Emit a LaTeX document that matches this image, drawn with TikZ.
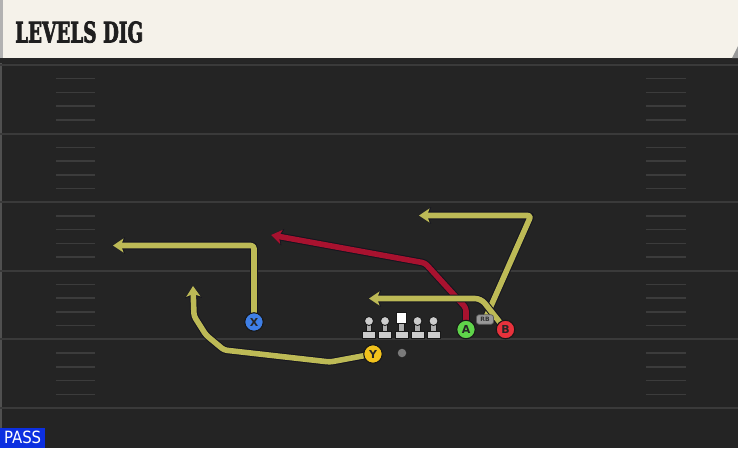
\documentclass[tikz,border=0pt]{standalone}
\usepackage{fontspec}
\setmainfont{DejaVu Sans}
\newfontfamily\titlefont{DejaVu Serif}[BoldFeatures={FakeBold=3}]
\newfontfamily\passfont{DejaVu Sans Condensed}
\usetikzlibrary{arrows.meta}
\pgfdeclarelayer{field}
\pgfdeclarelayer{routes}
\pgfsetlayers{field,routes,main}
\definecolor{fieldbg}{HTML}{242424}
\definecolor{yardline}{HTML}{3A3A3A}
\definecolor{hashcol}{HTML}{3C3C3C}
\definecolor{cream}{HTML}{F5F2EA}
\definecolor{routeyellow}{HTML}{BDBA56}
\definecolor{routered}{HTML}{A8122F}
\definecolor{routeedge}{HTML}{15151F}
\definecolor{pblue}{HTML}{3F7FE6}
\definecolor{pyellow}{HTML}{F2C21C}
\definecolor{pgreen}{HTML}{5FD44A}
\definecolor{pred}{HTML}{E8323C}
\definecolor{passblue}{HTML}{0C2FE0}
\definecolor{lmgrey}{HTML}{CDCDCD}
\definecolor{lmedge}{HTML}{181818}
\tikzset{
  route/.style={line width=5.6pt, rounded corners=3pt, line join=round,
    -{Stealth[length=10.5pt,width=14pt,inset=2.5pt]},
    preaction={draw=routeedge, line width=7.6pt, -{Stealth[length=12pt,width=16.5pt,inset=3pt]}}},
  yroute/.style={route, draw=routeyellow},
  rroute/.style={route, draw=routered},
  player/.style={circle, minimum size=18.5pt, inner sep=0pt, draw=lmedge, line width=1.1pt,
    fill=#1, text=black!85, font=\bfseries\fontsize{11}{11}\selectfont},
  lineman/.pic={
    \draw[lmedge, line width=.9pt, fill=lmgrey!85!black] (-2.6,2) rectangle (2.6,10.5);
    \draw[lmedge, line width=.9pt, fill=lmgrey] (-6.5,10) rectangle (6.5,17.2);
    \draw[lmedge, line width=.9pt, fill=lmgrey] (0,0) circle (4.5);
  },
  centerman/.pic={
    \draw[lmedge, line width=.9pt, fill=lmgrey!85!black] (-2.6,1) rectangle (2.6,10.5);
    \draw[lmedge, line width=.9pt, fill=lmgrey] (-6.5,10) rectangle (6.5,17.2);
    \draw[lmedge, line width=.9pt, fill=white] (-5,-8.5) rectangle (5,2);
  }
}
\begin{document}
\begin{tikzpicture}[x=1pt,y=-1pt]
\useasboundingbox (0,0) rectangle (738,448);
\begin{pgfonlayer}{field}
  \fill[fieldbg] (0,58) rectangle (738,448);
  \fill[black!85!white] (0,58) rectangle (738,63);
  \fill[white!20!fieldbg] (0,63) rectangle (2,448);
  \foreach \k in {0,...,5}
    \draw[yardline, line width=2pt] (0,65+68.6*\k) -- (738,65+68.6*\k);
  \foreach \k in {0,...,4}
    \foreach \i in {1,...,4} {
      \draw[hashcol, line width=1.5pt] (56,65+68.6*\k+13.72*\i) -- (95,65+68.6*\k+13.72*\i);
      \draw[hashcol, line width=1.5pt] (646,65+68.6*\k+13.72*\i) -- (686,65+68.6*\k+13.72*\i);
    }
  \fill[cream] (0,0) rectangle (738,58);
  \fill[black!30] (0,0) rectangle (3,58);
  \fill[black!40] (732,58) -- (738,46) -- (738,58) -- cycle;
\end{pgfonlayer}
\node[anchor=south west, inner sep=0pt, text=black!88] (title) at (15,43)
  {\resizebox{128pt}{21pt}{\titlefont\bfseries LEVELS DIG}};
\node[anchor=south west, fill=passblue, minimum width=45pt, minimum height=20pt, inner sep=0pt, text=white] (pass) at (0,448)
  {\resizebox{37pt}{12.5pt}{\passfont PASS}};
% linemen
\pic (lt) at (369,321) {lineman};
\pic (lg) at (385,321) {lineman};
\pic (c) at (401.5,321) {centerman};
\pic (rg) at (417.5,321) {lineman};
\pic (rt) at (433.5,321) {lineman};
\node[circle, fill=black!52, minimum size=8.5pt, inner sep=0pt] (qb) at (402,353) {};
\node[player=pblue] (X) at (254,322) {X};
\node[player=pyellow] (Y) at (373,354) {Y};
\node[player=pgreen] (A) at (466,329.5) {A};
\node[player=pred] (B) at (505.5,329.5) {B};
\node[rounded corners=2.5pt, fill=black!40, draw=black!65, line width=.7pt, minimum width=17pt, minimum height=9.5pt,
  inner sep=0pt, text=black!80, font=\bfseries\fontsize{6}{6}\selectfont] (RB) at (485,319.5) {RB};
\coordinate (x1) at (254,245.5);
\coordinate (xend) at (113,245.5);
\coordinate (y1) at (330,362);
\coordinate (y2) at (224,350);
\coordinate (y3) at (206,335);
\coordinate (y4) at (194,316);
\coordinate (yend) at (193,286);
\coordinate (a1) at (466,308);
\coordinate (a2) at (425,263);
\coordinate (aend) at (271,235);
\coordinate (r1) at (531,215.5);
\coordinate (rend) at (419,215.5);
\coordinate (b1) at (481,298.5);
\coordinate (bend) at (369,298.5);
\begin{pgfonlayer}{routes}
  \draw[yroute] (X.center) -- (x1) -- (xend);
  \draw[yroute] (Y.center) -- (y1) -- (y2) -- (y3) -- (y4) -- (yend);
  \draw[rroute] (A.center) -- (a1) -- (a2) -- (aend);
  \draw[yroute] (RB.center) -- (r1) -- (rend);
  \draw[yroute, rounded corners=6pt] (B.center) -- (b1) -- (bend);
\end{pgfonlayer}
\end{tikzpicture}
\end{document}
